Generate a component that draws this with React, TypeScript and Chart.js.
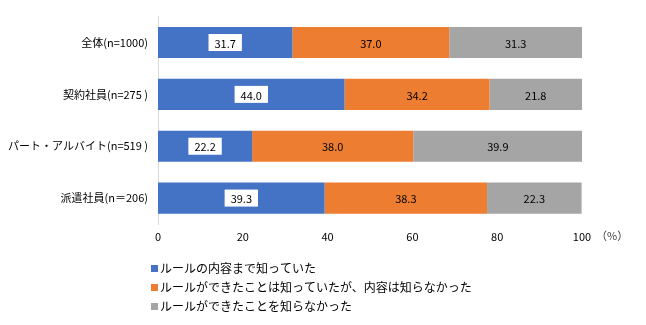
import React, { useEffect, useRef } from "react";
import { Chart, registerables } from "chart.js";

Chart.register(...registerables);

const categories = ["全体(n=1000)", "契約社員(n=275 )", "パート・アルバイト(n=519 )", "派遣社員(n＝206)"];
const knewContent = [31.7, 44.0, 22.2, 39.3];
const knewRuleOnly = [37.0, 34.2, 38.0, 38.3];
const didNotKnow = [31.3, 21.8, 39.9, 22.3];
const seriesNames = [
  "ルールの内容まで知っていた",
  "ルールができたことは知っていたが、内容は知らなかった",
  "ルールができたことを知らなかった",
];
const colors = ["#4472C4", "#ED7D31", "#A5A5A5"];
const xTicks = [0, 20, 40, 60, 80, 100];
const unitLabel = "（%）";

const FONT = "'Liberation Sans Narrow', 'Noto Sans CJK JP', sans-serif";
const JFONT = "'Noto Sans CJK JP', sans-serif";

const labelPlugin = {
  id: "labels",
  afterDatasetsDraw(chart: any) {
    const ctx = chart.ctx;
    ctx.save();
    ctx.font = `11px ${FONT}`;
    ctx.textAlign = "center";
    ctx.textBaseline = "middle";
    chart.data.datasets.forEach((ds: any, di: number) => {
      const meta = chart.getDatasetMeta(di);
      meta.data.forEach((bar: any, i: number) => {
        const v = ds.data[i] as number;
        const cx = (bar.x + bar.base) / 2;
        const cy = bar.y;
        const txt = v.toFixed(1);
        if (di === 0) {
          const w = ctx.measureText(txt).width + 12;
          ctx.fillStyle = "#ffffff";
          ctx.fillRect(cx - w / 2, cy - 8.5, w, 17);
        }
        ctx.fillStyle = "#000000";
        ctx.fillText(txt, cx, cy + 1);
      });
    });
    // unit label
    const xs = chart.scales.x;
    ctx.font = `11px ${JFONT}`;
    ctx.fillStyle = "#404040";
    ctx.textAlign = "left";
    ctx.fillText(unitLabel, xs.getPixelForValue(100) + 14, 236);
    // legend
    const lx = 151;
    const ys = [268, 287, 306];
    ctx.font = `12px ${JFONT}`;
    seriesNames.forEach((n, i) => {
      ctx.fillStyle = colors[i];
      ctx.fillRect(lx, ys[i] - 3, 7, 7);
      ctx.fillStyle = "#000000";
      ctx.fillText(n, lx + 9, ys[i]);
    });
    ctx.restore();
  },
};

export default function App() {
  const ref = useRef<HTMLCanvasElement>(null);
  useEffect(() => {
    document.body.style.margin = "0";
    const chart = new Chart(ref.current!, {
      type: "bar",
      data: {
        labels: categories,
        datasets: [knewContent, knewRuleOnly, didNotKnow].map((d, i) => ({
          label: seriesNames[i],
          data: d,
          backgroundColor: colors[i],
          borderWidth: 0,
          categoryPercentage: 1,
          barPercentage: 0.6,
        })),
      },
      options: {
        indexAxis: "y",
        animation: false,
        responsive: false,
        layout: { padding: { top: 7, right: 64, left: 0, bottom: 0 } },
        plugins: { legend: { display: false }, tooltip: { enabled: false } },
        scales: {
          x: {
            stacked: true,
            min: 0,
            max: 100,
            afterBuildTicks: (s: any) => {
              s.ticks = xTicks.map((v) => ({ value: v }));
            },
            afterFit: (s: any) => {
              s.height = 101;
            },
            grid: { display: false, drawTicks: false },
            border: { display: false },
            ticks: {
              padding: 6,
              color: "#000",
              font: { family: FONT, size: 11 },
              maxRotation: 0,
            },
          },
          y: {
            stacked: true,
            afterFit: (s: any) => {
              s.width = 158;
            },
            grid: { display: false, drawTicks: false },
            border: { display: true, color: "#d9d9d9" },
            ticks: {
              padding: 10,
              color: "#000",
              font: { family: FONT, size: 11 },
            },
          },
        },
      },
      plugins: [labelPlugin],
    });
    return () => chart.destroy();
  }, []);
  return <canvas ref={ref} width={646} height={325} style={{ display: "block" }} />;
}
